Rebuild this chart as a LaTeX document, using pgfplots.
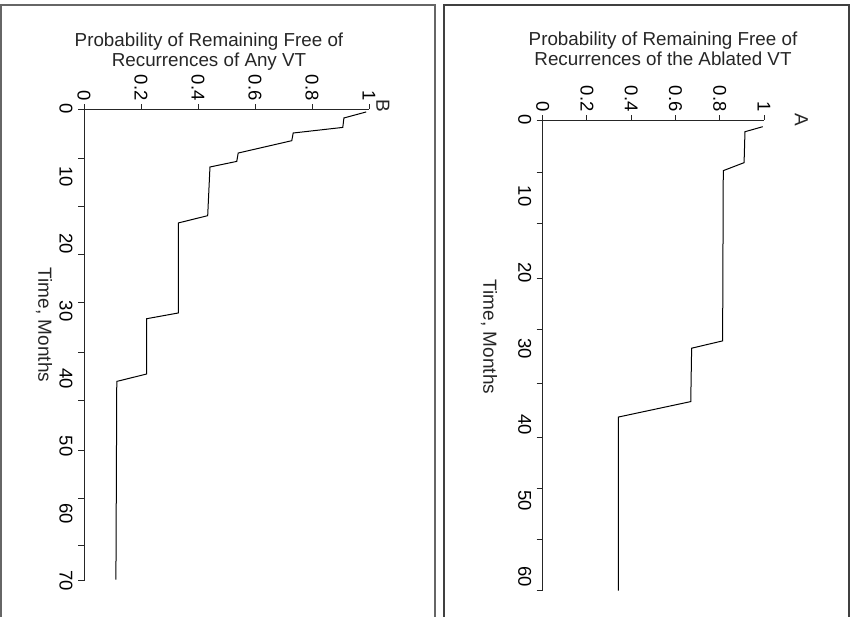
\documentclass[border=0pt]{standalone}
\usepackage{pgfplots}
\pgfplotsset{compat=1.18}
\usepackage{fontspec}
\setmainfont{Liberation Sans}
\begin{document}
\begin{tikzpicture}
\pgfplotsset{
  km/.style={
    scale only axis, enlargelimits=false, clip=false,
    y dir=reverse,
    axis x line*=top, axis y line*=left,
    axis line style={-, line width=1pt, black!85},
    xmin=0, xmax=1, ymin=0,
    xtick={0,0.2,0.4,0.6,0.8,1},
    xticklabels={0,0.2,0.4,0.6,0.8,1},
    tick align=outside,
    major tick length=5pt, minor tick length=6pt,
    tick style={black!85, line width=1pt},
    major y tick style={draw=none},
    tick label style={font=\fontsize{18.5}{20}\selectfont},
    xticklabel style={rotate=-90, anchor=east},
    yticklabel style={rotate=-90, anchor=north},
    yticklabel shift=3pt,
    /pgf/number format/assume math mode=true,
  }
}
\path[use as bounding box] (0,0) rectangle (855pt,-617pt);
% panel borders
\draw[black!60, line width=1.5pt] (1pt,-617pt) -- (1pt,-5pt) -- (435pt,-5pt) -- (435pt,-617pt);
\draw[black!75, line width=1.5pt] (444pt,-617pt) -- (444pt,-5pt) -- (849pt,-5pt) -- (849pt,-617pt);
% titles
\node[align=center, inner sep=0pt, anchor=north, font=\fontsize{18.8}{20}\selectfont, black!85] at (209pt,-33pt) {Probability of Remaining Free of\\Recurrences of Any VT};
\node[align=center, inner sep=0pt, anchor=north, font=\fontsize{18.8}{20}\selectfont, black!85] at (663pt,-32pt) {Probability of Remaining Free of\\Recurrences of the Ablated VT};
\node[rotate=-90, font=\fontsize{19}{21}\selectfont, black!85] at (383pt,-106pt) {B};
\node[rotate=-90, font=\fontsize{19}{21}\selectfont, black!85] at (801.5pt,-119.5pt) {A};
% axis titles
\node[rotate=-90, inner sep=0pt, font=\fontsize{19}{21}\selectfont, black!85] at (44pt,-325pt) {Time, Months};
\node[rotate=-90, inner sep=0pt, font=\fontsize{19}{21}\selectfont, black!85] at (489pt,-337pt) {Time, Months};

% Panel B
\begin{axis}[km, at={(84pt,-109pt)}, anchor=origin,
  width=285pt, height=472pt, ymax=70,
  ytick={0,10,20,30,40,50,60,70},
  minor ytick={0,7.27,14.39,21.65,28.77,36.04,43.16,50.58,57.7,64.81,70}]
\addplot[black, line width=1pt] table {
p t
0.99 0.44
0.912 1.33
0.908 2.73
0.734 3.56
0.729 4.70
0.541 6.53
0.536 7.77
0.442 8.60
0.434 15.82
0.331 16.9
0.331 30.25
0.220 31.1
0.220 39.3
0.115 40.4
0.112 69.8
};
\end{axis}

% Panel A
\begin{axis}[km, at={(542.7pt,-120pt)}, anchor=origin,
  width=221.3pt, height=470.7pt, ymax=61.8,
  ytick={0,10,20,30,40,50,60},
  minor ytick={0,6.92,13.65,20.77,27.56,34.65,41.64,48.43,55.12,61.77}]
\addplot[black, line width=1pt] table {
p t
0.994 0.88
0.914 1.54
0.910 5.6
0.816 6.65
0.813 29.0
0.673 29.96
0.669 36.97
0.342 39.0
0.342 61.8
};
\end{axis}
\end{tikzpicture}
\end{document}
